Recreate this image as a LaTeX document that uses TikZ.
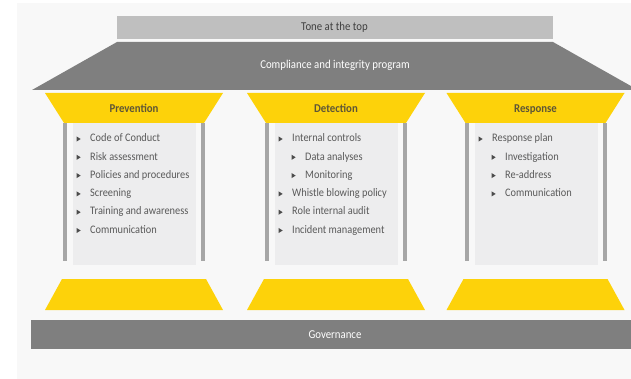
\documentclass[tikz,border=0pt]{standalone}
\usepackage{fontspec}
\setmainfont{Carlito}[FakeStretch=0.9]
\definecolor{pagebg}{HTML}{F8F8F8}
\definecolor{tonegray}{HTML}{BFBFBF}
\definecolor{roofgray}{HTML}{7F7F7F}
\definecolor{eyyellow}{HTML}{FDD20A}
\definecolor{panelgray}{HTML}{EDEDEE}
\definecolor{pillargray}{HTML}{A6A6A6}
\definecolor{listtext}{HTML}{5A5A5A}
\definecolor{headtext}{HTML}{5E5636}

\tikzset{
  tonebox/.style={fill=tonegray, text=black!75, inner sep=0pt,
    font=\fontsize{12}{14}\selectfont},
  whitetext/.style={text=white, inner sep=0pt, text height=8pt, text depth=2pt,
    font=\fontsize{12}{14}\selectfont},
  headlabel/.style={text=headtext, inner sep=0pt, text height=8pt, text depth=2pt,
    font=\fontsize{12}{14}\selectfont\bfseries},
  listitem/.style={anchor=west, inner sep=0pt, text=listtext,
    text height=7.5pt, text depth=0pt, font=\fontsize{11.5}{13}\selectfont},
  bulletmark/.style={fill=listtext!85!black}
}

% one list line: name, x of text start, y, text
\newcommand\pillaritem[4]{%
  \node[listitem] (#1) at (#2,#3) {#4};
  \fill[bulletmark] ([xshift=-13.5pt]#1.west) ++(0,-1.6) -- ++(0,5.2) -- ++(4.2,-2.6) -- cycle;
}

\begin{document}
\begin{tikzpicture}[x=1pt,y=-1pt]
  \clip (0,0) rectangle (631,379);
  \fill[white] (0,0) rectangle (631,379);
  \fill[pagebg] (17,3) rectangle (631,379);

  % roof: tone at the top and the programme
  \node[tonebox, minimum width=436pt, minimum height=23pt] (tone) at (334.5,27.5) {Tone at the top};
  \fill[roofgray] (117,42) -- (553,42) -- (638,90) -- (32,90) -- cycle;
  \node[whitetext] (program) at (335,66) {Compliance and integrity program};

  % the three pillars
  \foreach \c/\nm/\title in {134/prev/Prevention, 336/det/Detection, 535.5/resp/Response} {
    \fill[eyyellow] (\c-89,93) -- (\c+89,93) -- (\c+70,123) -- (\c-70,123) -- cycle;
    \fill[panelgray] (\c-61,123) rectangle (\c+62,265);
    \fill[pillargray] (\c-71,123) rectangle (\c-67,261);
    \fill[pillargray] (\c+67,123) rectangle (\c+71,261);
    \fill[eyyellow] (\c-72,279) -- (\c+72,279) -- (\c+89,310) -- (\c-89,310) -- cycle;
    \node[headlabel] (head-\nm) at (\c,109.5) {\title};
  }

  % foundation
  \fill[roofgray] (31,320) rectangle (640,349);
  \node[whitetext] (governance) at (335,335) {Governance};

  % Prevention
  \pillaritem{p1}{90}{138}{Code of Conduct}
  \pillaritem{p2}{90}{156.3}{Risk assessment}
  \pillaritem{p3}{90}{174.6}{Policies and procedures}
  \pillaritem{p4}{90}{192.9}{Screening}
  \pillaritem{p5}{90}{211.2}{Training and awareness}
  \pillaritem{p6}{90}{229.5}{Communication}

  % Detection
  \pillaritem{d1}{292}{138}{Internal controls}
  \pillaritem{d2}{305}{156.3}{Data analyses}
  \pillaritem{d3}{305}{174.6}{Monitoring}
  \pillaritem{d4}{292}{192.9}{Whistle blowing policy}
  \pillaritem{d5}{292}{211.2}{Role internal audit}
  \pillaritem{d6}{292}{229.5}{Incident management}

  % Response
  \pillaritem{r1}{492}{138}{Response plan}
  \pillaritem{r2}{505}{156.3}{Investigation}
  \pillaritem{r3}{505}{174.6}{Re-address}
  \pillaritem{r4}{505}{192.9}{Communication}
\end{tikzpicture}
\end{document}
